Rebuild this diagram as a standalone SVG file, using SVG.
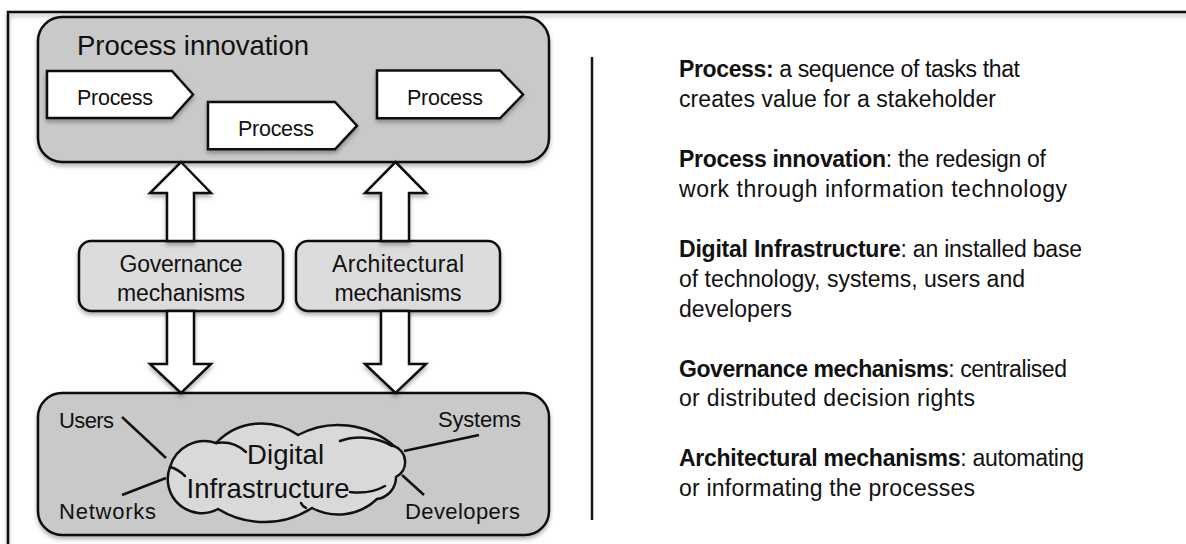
<svg xmlns="http://www.w3.org/2000/svg" width="1186" height="544" viewBox="0 0 1186 544">
  <defs>
    <filter id="shadow" x="-10%" y="-10%" width="125%" height="135%">
      <feDropShadow dx="0" dy="3" stdDeviation="2" flood-color="#000" flood-opacity="0.3"/>
    </filter>
    <style>
      .frame{fill:none;stroke:#111;stroke-width:2.5}
      .panel{fill:#c9c9c9;stroke:#111;stroke-width:2.5}
      .mech{fill:#dcdcdc;stroke:#111;stroke-width:2.5}
      .step{fill:#fff;stroke:#111;stroke-width:2.5;stroke-linejoin:miter}
      .block{fill:#fff;stroke:#111;stroke-width:2.5;stroke-linejoin:miter}
      .cloud{fill:#d9d9d9;stroke:#111;stroke-width:2.5}
      .cloud-in{fill:none;stroke:#111;stroke-width:2.5;stroke-linecap:round}
      .link{stroke:#111;stroke-width:2.5}
      .sh{filter:url(#shadow)}
      text{font-family:"Liberation Sans",Arial,sans-serif;fill:#111}
      .title{font-size:27.5px}
      .lbl{font-size:21.5px}
      .mtx{font-size:23px}
      .small{font-size:22px}
      .big{font-size:27.5px}
      .def{font-size:23px}
      .def tspan.b{font-weight:bold}
    </style>
  </defs>

  <!-- page frame -->
  <rect class="frame sh" x="8" y="12" width="1200" height="600"/>

  <!-- process innovation panel -->
  <g id="process-innovation">
    <rect class="panel sh" x="38" y="17" width="511" height="145" rx="24"/>
    <text class="title" x="77" y="55" textLength="232">Process innovation</text>
  </g>

  <!-- mechanism boxes -->
  <g id="governance">
    <rect class="mech sh" x="79" y="241" width="204" height="70" rx="12"/>
    <text class="mtx" x="181" y="271.5" text-anchor="middle" textLength="123">Governance</text>
    <text class="mtx" x="181" y="301" text-anchor="middle" textLength="128">mechanisms</text>
  </g>
  <g id="architectural">
    <rect class="mech sh" x="296" y="241" width="204" height="70" rx="12"/>
    <text class="mtx" x="398" y="271.5" text-anchor="middle" textLength="132">Architectural</text>
    <text class="mtx" x="398" y="301" text-anchor="middle" textLength="127">mechanisms</text>
  </g>

  <!-- digital infrastructure panel -->
  <g id="digital-infrastructure">
    <rect class="panel sh" x="38" y="393" width="511" height="142" rx="24"/>
    <text class="small" x="59" y="428" textLength="55">Users</text>
    <text class="small" x="59" y="519" textLength="97">Networks</text>
    <text class="small" x="438" y="427" textLength="83">Systems</text>
    <text class="small" x="405" y="519" textLength="115">Developers</text>
  </g>

  <!-- connectors: block arrows and cloud spokes -->
  <g id="connectors">
    <!-- governance up / down -->
    <polygon class="block sh" points="181,162 211,193 194,193 194,241 167,241 167,193 150,193"/>
    <polygon class="block sh" points="167,311 194,311 194,364 211,364 181,393 150,364 167,364"/>
    <!-- architectural up / down -->
    <polygon class="block sh" points="395.5,162 426,193 409,193 409,241 381,241 381,193 365,193"/>
    <polygon class="block sh" points="381,311 409,311 409,364 426,364 395.5,393 365,364 381,364"/>
    <!-- spokes from the infrastructure cloud -->
    <line class="link" x1="122" y1="417" x2="166" y2="458"/>
    <line class="link" x1="122" y1="495" x2="166" y2="478"/>
    <line class="link" x1="479" y1="435" x2="404" y2="451"/>
    <line class="link" x1="424" y1="495" x2="402" y2="475"/>
  </g>

  <g id="cloud">
    <path class="cloud" d="M170 467 A36 36 0 0 1 216 443 A63 63 0 0 1 298 435 A85 85 0 0 1 394 446 A17 17 0 0 1 396 477 A22 22 0 0 1 377 499 A56 56 0 0 1 312 508 A88 88 0 0 1 218 509 A34 34 0 0 1 170 467 Z"/>
    <path class="cloud-in" d="M216 443 A36 36 0 0 1 246 452"/>
    <path class="cloud-in" d="M340 441 A45 30 0 0 1 392 446"/>
    <path class="cloud-in" d="M350 492 A40 25 0 0 0 385 486"/>
    <path class="cloud-in" d="M306 508 A10 10 0 0 1 301 503"/>
    <path class="cloud-in" d="M170 467 Q178 469 185 476"/>
    <text class="big" x="285.5" y="464" text-anchor="middle" textLength="77">Digital</text>
    <text class="big" x="268" y="498" text-anchor="middle" textLength="163">Infrastructure</text>
  </g>

  <!-- process steps -->
  <g id="process-1">
    <polygon class="step sh" points="47,71 172,71 193,94.5 172,118 47,118"/>
    <text class="lbl" x="115" y="105" text-anchor="middle" textLength="76">Process</text>
  </g>
  <g id="process-2">
    <polygon class="step sh" points="208,102 335,102 357,125.7 335,149.3 208,149.3"/>
    <text class="lbl" x="276" y="136" text-anchor="middle" textLength="76">Process</text>
  </g>
  <g id="process-3">
    <polygon class="step sh" points="377,70.5 500,70.5 523,94.5 500,118.3 377,118.3"/>
    <text class="lbl" x="445" y="105" text-anchor="middle" textLength="76">Process</text>
  </g>

  <!-- divider -->
  <line class="link" x1="592" y1="57" x2="592" y2="520"/>

  <!-- definitions -->
  <g id="definitions" class="def">
    <text x="679" y="77" textLength="341"><tspan class="b">Process:</tspan> a sequence of tasks that</text>
    <text x="679" y="107" textLength="317">creates value for a stakeholder</text>
    <text x="679" y="166.8" textLength="367"><tspan class="b">Process innovation</tspan>: the redesign of</text>
    <text x="679" y="196.8" textLength="388">work through information technology</text>
    <text x="679" y="256.7" textLength="403"><tspan class="b">Digital Infrastructure</tspan>: an installed base</text>
    <text x="679" y="286.6" textLength="346">of technology, systems, users and</text>
    <text x="679" y="316.6" textLength="113">developers</text>
    <text x="679" y="376.5" textLength="388"><tspan class="b">Governance mechanisms</tspan>: centralised</text>
    <text x="679" y="406.4" textLength="296">or distributed decision rights</text>
    <text x="679" y="466.4" textLength="405"><tspan class="b">Architectural mechanisms</tspan>: automating</text>
    <text x="679" y="496.3" textLength="296">or informating the processes</text>
  </g>
</svg>
